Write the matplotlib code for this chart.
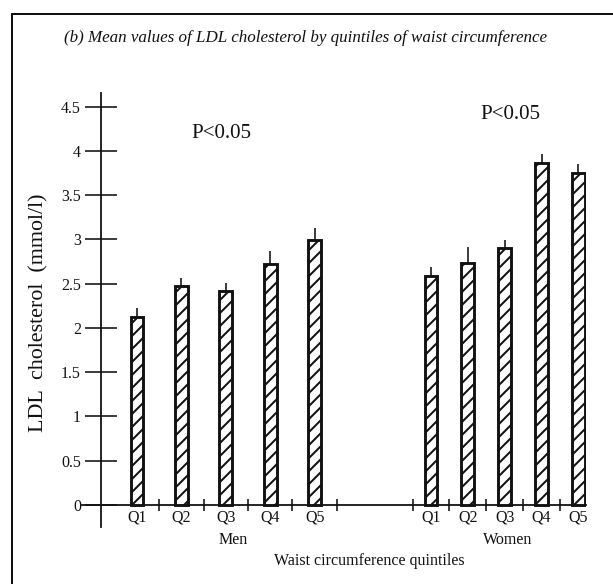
import numpy as np
import matplotlib
matplotlib.use("Agg")
import matplotlib.pyplot as plt
from matplotlib.lines import Line2D

# ---- data -------------------------------------------------------------
quintiles = ["Q1", "Q2", "Q3", "Q4", "Q5"]
men_ldl = [2.12, 2.47, 2.42, 2.72, 2.99]
men_se = [0.11, 0.10, 0.09, 0.15, 0.14]
women_ldl = [2.59, 2.73, 2.90, 3.86, 3.75]
women_se = [0.10, 0.19, 0.09, 0.11, 0.10]
y_ticks = [0, 0.5, 1, 1.5, 2, 2.5, 3, 3.5, 4, 4.5]
y_tick_labels = ["0", "0.5", "1", "1.5", "2", "2.5", "3", "3.5", "4", "4.5"]
group_names = ["Men", "Women"]
p_text = "P<0.05"

# ---- geometry helpers ---------------------------------------------------
DPI = 156
W, H = 613, 584
PX = 72.0 / DPI  # points per pixel

plt.rcParams["font.family"] = ["Liberation Serif", "DejaVu Serif"]
plt.rcParams["hatch.linewidth"] = 2.0 * PX
plt.rcParams["hatch.color"] = "#111111"

fig = plt.figure(figsize=(W / DPI, H / DPI), dpi=DPI)
fig.patch.set_facecolor("white")

ax_l, ax_r, ax_b, ax_t = 82, 586, 527, 93
ax = fig.add_axes([ax_l / W, (H - ax_b) / H, (ax_r - ax_l) / W, (ax_b - ax_t) / H])

step_men = 1.0
step_women = 0.83
men_x = 0.81 + step_men * np.arange(len(quintiles))
women_x = 7.43 + step_women * np.arange(len(quintiles))
bar_w = 0.29

ink = "#111111"
for xs, vals, errs in [(men_x, men_ldl, men_se), (women_x, women_ldl, women_se)]:
    ax.bar(xs, vals, width=bar_w, facecolor="white", edgecolor=ink,
           linewidth=2.9 * PX, hatch="////", zorder=3)
    ax.errorbar(xs, vals, yerr=[np.zeros(len(errs)), errs], fmt="none",
                ecolor=ink, elinewidth=1.6 * PX, capsize=0, zorder=2)

ax.set_xlim(-0.428, 10.92)
ax.set_ylim(-0.2486, 4.655)

for side in ["top", "right"]:
    ax.spines[side].set_visible(False)
ax.spines["left"].set_position(("data", 0))
ax.spines["bottom"].set_position(("data", 0))
for side in ["left", "bottom"]:
    ax.spines[side].set_linewidth(1.8 * PX)
    ax.spines[side].set_color(ink)

# y axis ticks cross the axis line
ax.set_yticks(y_ticks)
ax.set_yticklabels(y_tick_labels)
ax.tick_params(axis="y", direction="inout", length=32 * PX, width=1.6 * PX,
               pad=4 * PX, labelsize=16 * PX, colors=ink)

# x axis: separator ticks (major) and quintile labels (minor)
sep = list(men_x + 0.5 * step_men) + list(women_x - 0.5 * step_women)
ax.set_xticks(sep)
ax.set_xticklabels([])
ax.tick_params(axis="x", which="major", direction="inout", length=12 * PX,
               width=1.6 * PX, colors=ink)
ax.set_xticks(list(men_x) + list(women_x), minor=True)
ax.set_xticklabels(quintiles * 2, minor=True)
ax.tick_params(axis="x", which="minor", length=0, pad=5 * PX,
               labelsize=16 * PX, labelcolor=ink)

# annotations
ax.text(2.72, 4.20, p_text, ha="center", va="center", fontsize=21 * PX, color=ink)
ax.text(9.21, 4.41, p_text, ha="center", va="center", fontsize=21 * PX, color=ink)

ax.set_ylabel("LDL  cholesterol  (mmol/l)", fontsize=22 * PX, color=ink, va="center")
ax.yaxis.set_label_coords((39 - ax_l) / (ax_r - ax_l), (ax_b - 313) / (ax_b - ax_t))

to_fig_x = lambda px: px / W
to_fig_y = lambda py: (H - py) / H
for gx, name, shift in [(men_x.mean(), group_names[0], 7), (women_x.mean(), group_names[1], 3)]:
    xf = fig.transFigure.inverted().transform(ax.transData.transform((gx, 0)))[0]
    fig.text(xf + shift / W, to_fig_y(540), name, ha="center", va="center",
             fontsize=16 * PX, color=ink)
fig.text(to_fig_x(369), to_fig_y(561), "Waist circumference quintiles",
         ha="center", va="center", fontsize=16 * PX, color=ink)

fig.text(to_fig_x(306), to_fig_y(38),
         "(b) Mean values of LDL cholesterol by quintiles of waist circumference",
         ha="center", va="center", fontsize=17 * PX, style="italic", color=ink)

# panel frame (top and left edges)
fig.add_artist(Line2D([to_fig_x(12), 1.0], [to_fig_y(14), to_fig_y(14)],
                      transform=fig.transFigure, color=ink, linewidth=2 * PX))
fig.add_artist(Line2D([to_fig_x(12), to_fig_x(12)], [to_fig_y(14), 0.0],
                      transform=fig.transFigure, color=ink, linewidth=2 * PX))

fig.savefig("out.png", dpi=DPI, facecolor="white")
